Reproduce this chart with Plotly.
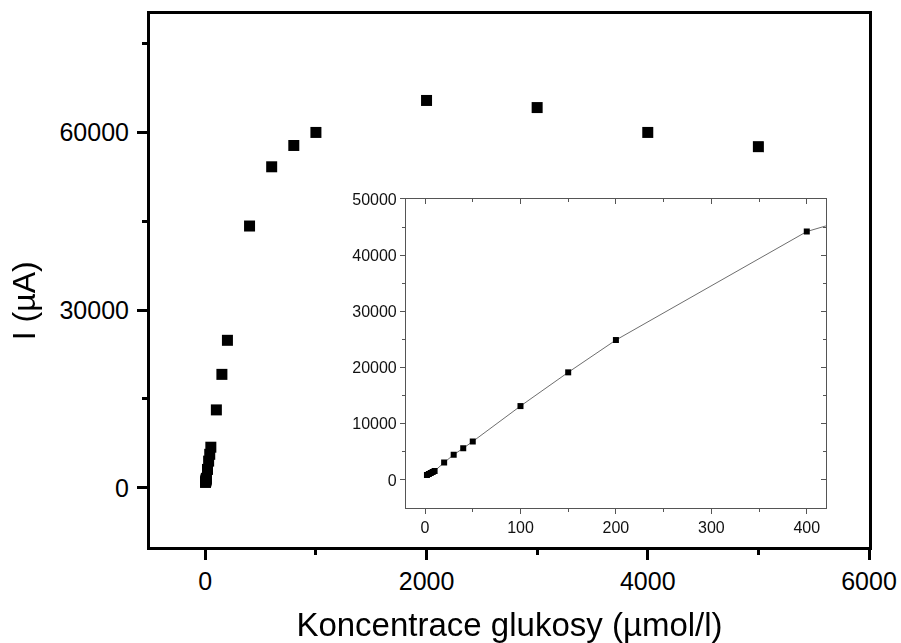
import plotly.graph_objects as go

# Data: glucose concentration (µmol/l) vs current (µA)
conc = [2, 4, 6, 8, 10, 20, 30, 40, 50, 100, 150, 200, 400, 600, 800, 1000, 2000, 3000, 4000, 5000]
current = [900, 1080, 1250, 1420, 1600, 3100, 4500, 5650, 6850, 13150, 19150, 24900,
           44200, 54200, 57800, 60000, 65400, 64200, 60000, 57600]

x_title = "Koncentrace glukosy (µmol/l)"
y_title = "I (µA)"

FONT = "Liberation Sans, Arial, sans-serif"
INSET_C = "#555555"

fig = go.Figure()

fig.add_trace(go.Scatter(x=conc, y=current, mode="markers",
                         marker=dict(symbol="square", size=11, color="black"),
                         xaxis="x", yaxis="y", showlegend=False))

fig.add_trace(go.Scatter(x=conc, y=current, mode="lines+markers",
                         line=dict(color="#6e6e6e", width=1),
                         marker=dict(symbol="square", size=6, color="black"),
                         xaxis="x2", yaxis="y2", showlegend=False))

fig.add_trace(go.Scatter(x=conc, y=current, mode="markers", opacity=0,
                         xaxis="x3", yaxis="y2", showlegend=False, hoverinfo="skip"))
fig.add_trace(go.Scatter(x=conc, y=current, mode="markers", opacity=0,
                         xaxis="x2", yaxis="y3", showlegend=False, hoverinfo="skip"))

ix0, ix1 = 0.356, 0.940
iy0, iy1 = 0.073, 0.653

fig.update_layout(
    width=901, height=643, autosize=False,
    margin=dict(l=150, r=32, t=14, b=96, autoexpand=False),
    paper_bgcolor="white", plot_bgcolor="white",
    font=dict(family=FONT, color="black"),
    xaxis=dict(domain=[0, 1], range=[-500, 6000], tickvals=[0, 2000, 4000, 6000], tickformat="d",
               showline=True, linewidth=3, linecolor="black", mirror=True, automargin=False,
               ticks="outside", ticklen=10, tickwidth=3, tickcolor="black",
               minor=dict(tickvals=[1000, 3000, 5000], ticks="outside", ticklen=5, tickwidth=3, tickcolor="black"),
               showgrid=False, zeroline=False,
               tickfont=dict(size=25),
               title=dict(text=x_title, font=dict(size=33), standoff=20)),
    yaxis=dict(domain=[0, 1], range=[-10000, 80000], tickvals=[0, 30000, 60000], tickformat="d",
               showline=True, linewidth=3, linecolor="black", mirror=True, automargin=False,
               ticks="outside", ticklen=10, tickwidth=3, tickcolor="black", ticklabelstandoff=3,
               minor=dict(tickvals=[15000, 45000, 75000], ticks="outside", ticklen=5, tickwidth=3, tickcolor="black"),
               showgrid=False, zeroline=False,
               tickfont=dict(size=25)),
    xaxis2=dict(domain=[ix0, ix1], anchor="y2", range=[-20, 420], tickvals=[0, 100, 200, 300, 400], tickformat="d",
                showline=True, linewidth=1, linecolor=INSET_C, mirror=True, automargin=False,
                ticks="outside", ticklen=5, tickwidth=1, tickcolor=INSET_C,
                minor=dict(tickvals=[50, 150, 250, 350], ticks="outside", ticklen=3, tickwidth=1, tickcolor=INSET_C),
                showgrid=False, zeroline=False, tickfont=dict(size=16, color="#111111")),
    yaxis2=dict(domain=[iy0, iy1], anchor="x2", range=[-5000, 50000], tickformat="d",
                tickvals=[0, 10000, 20000, 30000, 40000, 50000],
                showline=True, linewidth=1, linecolor=INSET_C, mirror=True, automargin=False,
                ticks="outside", ticklen=5, tickwidth=1, tickcolor=INSET_C,
                minor=dict(tickvals=[5000, 15000, 25000, 35000, 45000], ticks="outside", ticklen=3, tickwidth=1, tickcolor=INSET_C),
                showgrid=False, zeroline=False, tickfont=dict(size=16, color="#111111")),
    xaxis3=dict(overlaying="x2", side="top", anchor="y2", range=[-20, 420], automargin=False,
                tickvals=[0, 100, 200, 300, 400], showticklabels=False,
                ticks="inside", ticklen=5, tickwidth=1, tickcolor=INSET_C,
                minor=dict(tickvals=[50, 150, 250, 350], ticks="inside", ticklen=3, tickwidth=1, tickcolor=INSET_C),
                showline=False, showgrid=False, zeroline=False),
    yaxis3=dict(overlaying="y2", side="right", anchor="x2", range=[-5000, 50000], automargin=False,
                tickvals=[0, 10000, 20000, 30000, 40000, 50000], showticklabels=False,
                ticks="inside", ticklen=5, tickwidth=1, tickcolor=INSET_C,
                minor=dict(tickvals=[5000, 15000, 25000, 35000, 45000], ticks="inside", ticklen=3, tickwidth=1, tickcolor=INSET_C),
                showline=False, showgrid=False, zeroline=False),
    annotations=[dict(text=y_title, xref="paper", yref="paper", x=-0.175, y=0.4615,
                      xanchor="center", yanchor="middle", textangle=-90, showarrow=False,
                      font=dict(size=32))],
)

fig.write_html("out.html")
